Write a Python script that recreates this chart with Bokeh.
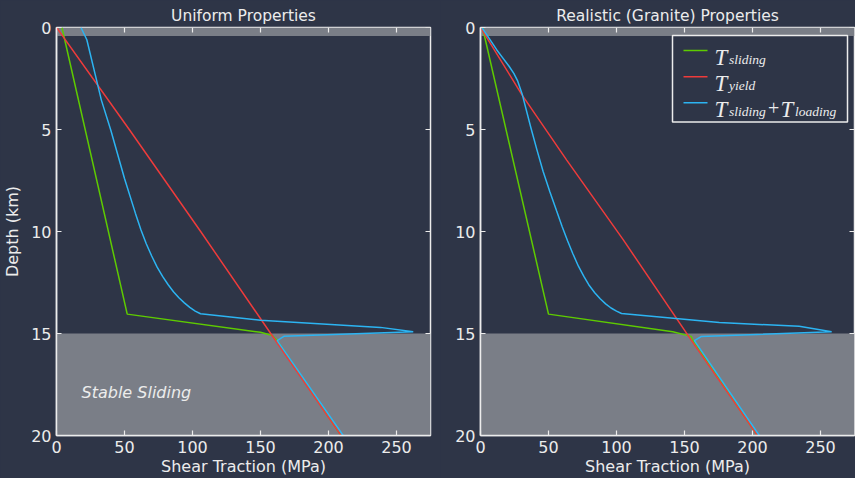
from bokeh.plotting import figure
from bokeh.layouts import row
from bokeh.models import Range1d, FixedTicker, Label
from bokeh.embed import file_html
from bokeh.resources import INLINE

# ---------------- data ----------------
x_ticks = [0, 50, 100, 150, 200, 250]
y_ticks = [0, 5, 10, 15, 20]
x_max = 275
depth_max = 20

# shaded zones (km)
top_zone = [0, 0.42]
stable_zone = [15, 20]

# Uniform properties
uni_sliding_depth = [0, 14.05, 14.94, 15.1, 15.35, 20]
uni_sliding_mpa = [4, 52, 150, 158.6, 162.3, 209.3]
uni_yield_depth = [0, 5, 10, 15, 20]
uni_yield_mpa = [0, 53.5, 106, 157.5, 209.3]
uni_total_depth = [0, 0.6, 2.9, 3.56, 5.05, 7.4, 9.1, 9.9, 10.6, 11.2, 11.75, 12.2,
                   12.6, 12.95, 13.25, 13.5, 13.72, 13.9, 14.03,
                   14.35, 14.7, 14.91, 15.14, 15.35, 20]
uni_total_mpa = [18, 22.3, 30.6, 33, 40, 50, 58, 62, 66, 70, 74, 78,
                 82, 86, 90, 94, 98, 102, 105.9,
                 150, 238.2, 262.3, 167.2, 162.3, 210.8]

# Realistic (granite) properties
gra_sliding_depth = [0, 14.05, 14.91, 15.14, 15.3, 20]
gra_sliding_mpa = [1.5, 50, 141.4, 154.9, 155.8, 203.7]
gra_yield_depth = [0, 3.3, 6.5, 10.4, 15.2, 20]
gra_yield_mpa = [0, 30.5, 63.4, 104.9, 153.7, 203.7]
gra_total_depth = [0, 0.5, 1.1, 1.5, 1.9, 2.25, 2.6, 3.3, 4.9, 6.0, 7.05, 8.05, 9.0, 9.75,
                   10.45, 11.1, 11.7, 12.2, 12.65, 13.0, 13.3, 13.55, 13.75, 13.9, 14.02,
                   14.46, 14.65, 14.91, 15.15, 15.35, 20]
gra_total_mpa = [1, 6, 12, 16.5, 21, 24.5, 27.2, 30.8, 37, 41.5, 46, 51, 56, 60,
                 64, 68, 72, 76, 80, 84, 88, 92, 96, 100, 103.7,
                 175.6, 234.3, 258.2, 162.2, 157.3, 205]

# ---------------- style ----------------
BG = "#2e3547"
BAND = "#7a7e87"
FG = "#ececec"
GREEN = "#5ecb00"
RED = "#ee3b3b"
BLUE = "#2cb4f2"
FONT = "DejaVu Sans"
SERIF = "Liberation Serif"

FRAME_W = 374
FRAME_H = 410
TOP = 27
BOTTOM = 41
TICK_PX = 5


def make_fig(title, width, border_left, border_right, ylabel):
    p = figure(width=width, height=478,
               x_range=Range1d(0, x_max), y_range=Range1d(depth_max, 0),
               output_backend="svg", toolbar_location=None,
               min_border_left=border_left, min_border_right=border_right,
               min_border_top=TOP, min_border_bottom=BOTTOM,
               background_fill_color=BG, border_fill_color=BG,
               outline_line_color=FG, outline_line_width=1.5)
    p.title.text = title
    p.title.align = "center"
    p.title.text_color = FG
    p.title.text_font = FONT
    p.title.text_font_style = "normal"
    p.title.text_font_size = "15.5px"
    p.title.standoff = 6
    p.grid.visible = False

    p.xaxis.ticker = FixedTicker(ticks=x_ticks)
    p.yaxis.ticker = FixedTicker(ticks=y_ticks)
    for ax in p.axis:
        ax.major_tick_in = TICK_PX
        ax.major_tick_out = 0
        ax.minor_tick_line_color = None
        ax.major_tick_line_color = FG
        ax.major_tick_line_width = 1.2
        ax.axis_line_color = FG
        ax.axis_line_width = 1.5
        ax.major_label_text_color = FG
        ax.major_label_text_font = FONT
        ax.major_label_text_font_size = "16px"
        ax.axis_label_text_color = FG
        ax.axis_label_text_font = FONT
        ax.axis_label_text_font_style = "normal"
        ax.axis_label_text_font_size = "16px"
    p.xaxis.major_label_standoff = 5
    p.xaxis.axis_label = "Shear Traction (MPa)"
    p.xaxis.axis_label_standoff = 1
    p.yaxis.major_label_standoff = 5
    if ylabel:
        p.yaxis.axis_label = ylabel
        p.yaxis.axis_label_standoff = 6

    # shaded zones
    p.quad(left=[0, 0], right=[x_max, x_max],
           top=[top_zone[0], stable_zone[0]], bottom=[top_zone[1], stable_zone[1]],
           fill_color=BAND, line_color=None)

    # inward ticks on the top and right spines (same tick values as the axes)
    tick_km = TICK_PX * depth_max / FRAME_H
    tick_mpa = TICK_PX * x_max / FRAME_W
    p.segment(x0=x_ticks, y0=[0] * len(x_ticks), x1=x_ticks, y1=[tick_km] * len(x_ticks),
              line_color=FG, line_width=1.2)
    p.segment(x0=[x_max] * len(y_ticks), y0=y_ticks, x1=[x_max - tick_mpa] * len(y_ticks),
              y1=y_ticks, line_color=FG, line_width=1.2)
    return p


def draw_curves(p, sd, sm, yd, ym, td, tm):
    p.line(sm, sd, line_color=GREEN, line_width=1.5)
    p.line(ym, yd, line_color=RED, line_width=1.5)
    p.line(tm, td, line_color=BLUE, line_width=1.5)


p1 = make_fig("Uniform Properties", 440, 56, 10, "Depth (km)")
draw_curves(p1, uni_sliding_depth, uni_sliding_mpa, uni_yield_depth, uni_yield_mpa,
            uni_total_depth, uni_total_mpa)
p1.add_layout(Label(x=18.4, y=17.9, text="Stable Sliding", text_color=FG,
                    text_font=FONT, text_font_style="italic", text_font_size="16px",
                    text_baseline="middle", text_align="left"))

p2 = make_fig("Realistic (Granite) Properties", 415, 40, 1, None)
draw_curves(p2, gra_sliding_depth, gra_sliding_mpa, gra_yield_depth, gra_yield_mpa,
            gra_total_depth, gra_total_mpa)

# ---------------- legend (drawn in panel 2, pixel offsets inside its frame) -------------
F_LEFT = 480


def fx(px):
    return (px - F_LEFT) * x_max / FRAME_W


def fy(py):
    return (py - TOP) * depth_max / FRAME_H


p2.quad(left=[fx(672)], right=[fx(847)], top=[fy(35)], bottom=[fy(122)],
        fill_color=BG, line_color=FG, line_width=1.5)

legend_colors = [GREEN, RED, BLUE]
row_mid = [50, 76.5, 102.7]
row_base = [56.7, 83.3, 109.3]
for c, ym in zip(legend_colors, row_mid):
    p2.line([fx(683), fx(707)], [fy(ym), fy(ym)], line_color=c, line_width=1.5)


def tex(p, px, py, txt, size, style="italic"):
    p.add_layout(Label(x=fx(px), y=fy(py), text=txt, text_color=FG, text_font=SERIF,
                       text_font_style=style, text_font_size=size,
                       text_baseline="alphabetic", text_align="left"))


T_SIZE = "23px"
S_SIZE = "13.5px"
tex(p2, 714, row_base[0], "T", T_SIZE)
tex(p2, 728.5, row_base[0] + 2.3, "sliding", S_SIZE)
tex(p2, 714, row_base[1], "T", T_SIZE)
tex(p2, 728.5, row_base[1] + 2.3, "yield", S_SIZE)
tex(p2, 714, row_base[2], "T", T_SIZE)
tex(p2, 728.5, row_base[2] + 2.3, "sliding", S_SIZE)
tex(p2, 767.5, row_base[2] - 1, "+", "20px", style="normal")
tex(p2, 780, row_base[2], "T", T_SIZE)
tex(p2, 794.5, row_base[2] + 2.3, "loading", S_SIZE)

layout = row(p1, p2, styles={"background-color": BG})
open("out.html", "w").write(file_html(layout, INLINE))
